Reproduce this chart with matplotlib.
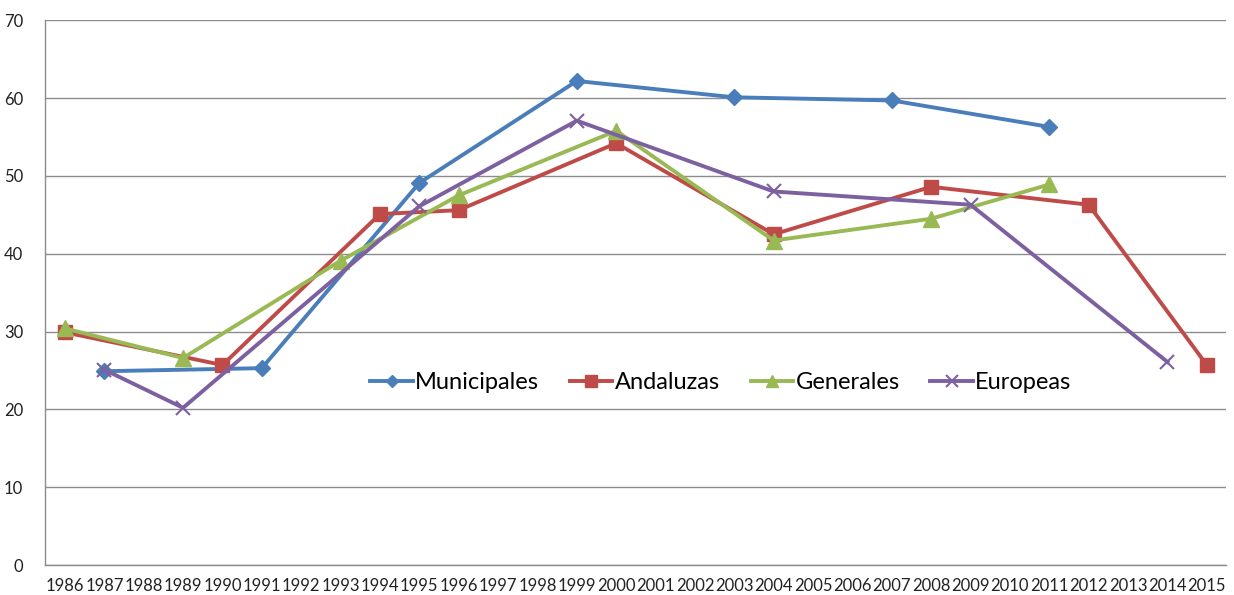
import matplotlib
matplotlib.use("Agg")
import matplotlib.pyplot as plt

years = list(range(1986, 2016))

muni_years = [1987, 1991, 1995, 1999, 2003, 2007, 2011]
muni_vals = [24.9, 25.3, 49.1, 62.2, 60.1, 59.7, 56.3]

anda_years = [1986, 1990, 1994, 1996, 2000, 2004, 2008, 2012, 2015]
anda_vals = [29.9, 25.7, 45.1, 45.6, 54.2, 42.5, 48.6, 46.3, 25.7]

gen_years = [1986, 1989, 1993, 1996, 2000, 2004, 2008, 2011]
gen_vals = [30.4, 26.6, 39.1, 47.5, 55.8, 41.7, 44.5, 48.9]

euro_years = [1987, 1989, 1995, 1999, 2004, 2009, 2014]
euro_vals = [25.1, 20.2, 46.1, 57.1, 48.0, 46.3, 26.1]

plt.rcParams['font.family'] = ['Lato', 'DejaVu Sans']

fig = plt.figure(figsize=(12.34, 5.95), dpi=100)
ax = fig.add_axes([0.0367, 0.0504, 0.9572, 0.9155])

ax.plot(muni_years, muni_vals, color='#4A7EBB', lw=2.8, marker='D', ms=8,
        label='Municipales', zorder=3)
ax.plot(anda_years, anda_vals, color='#BE4B48', lw=2.8, marker='s', ms=10,
        label='Andaluzas', zorder=3)
ax.plot(gen_years, gen_vals, color='#98B954', lw=2.8, marker='^', ms=11,
        label='Generales', zorder=3)
ax.plot(euro_years, euro_vals, color='#7D60A0', lw=2.8, marker='x', ms=10,
        mew=1.5, label='Europeas', zorder=3)

ax.set_xlim(1985.5, 2015.5)
ax.set_ylim(0, 70)
ax.set_xticks(years)
ax.set_xticklabels([str(y) for y in years])
ax.set_yticks(range(0, 71, 10))
ax.tick_params(axis='both', length=0, labelsize=12, colors='#222222')
ax.tick_params(axis='x', pad=9)
ax.tick_params(axis='y', pad=16)

ax.grid(axis='y', color='#8c8c8c', lw=1)
ax.set_axisbelow(True)
for s in ['top', 'right']:
    ax.spines[s].set_visible(False)
for s in ['left', 'bottom']:
    ax.spines[s].set_color('#8c8c8c')
    ax.spines[s].set_linewidth(1)

ax.legend(loc='center', bbox_to_anchor=(0.572, 0.335), ncol=4, frameon=False,
          fontsize=17, handlelength=1.8, columnspacing=1.3, handletextpad=0.1,
          markerscale=0.8)

fig.savefig('out.png', dpi=100)
